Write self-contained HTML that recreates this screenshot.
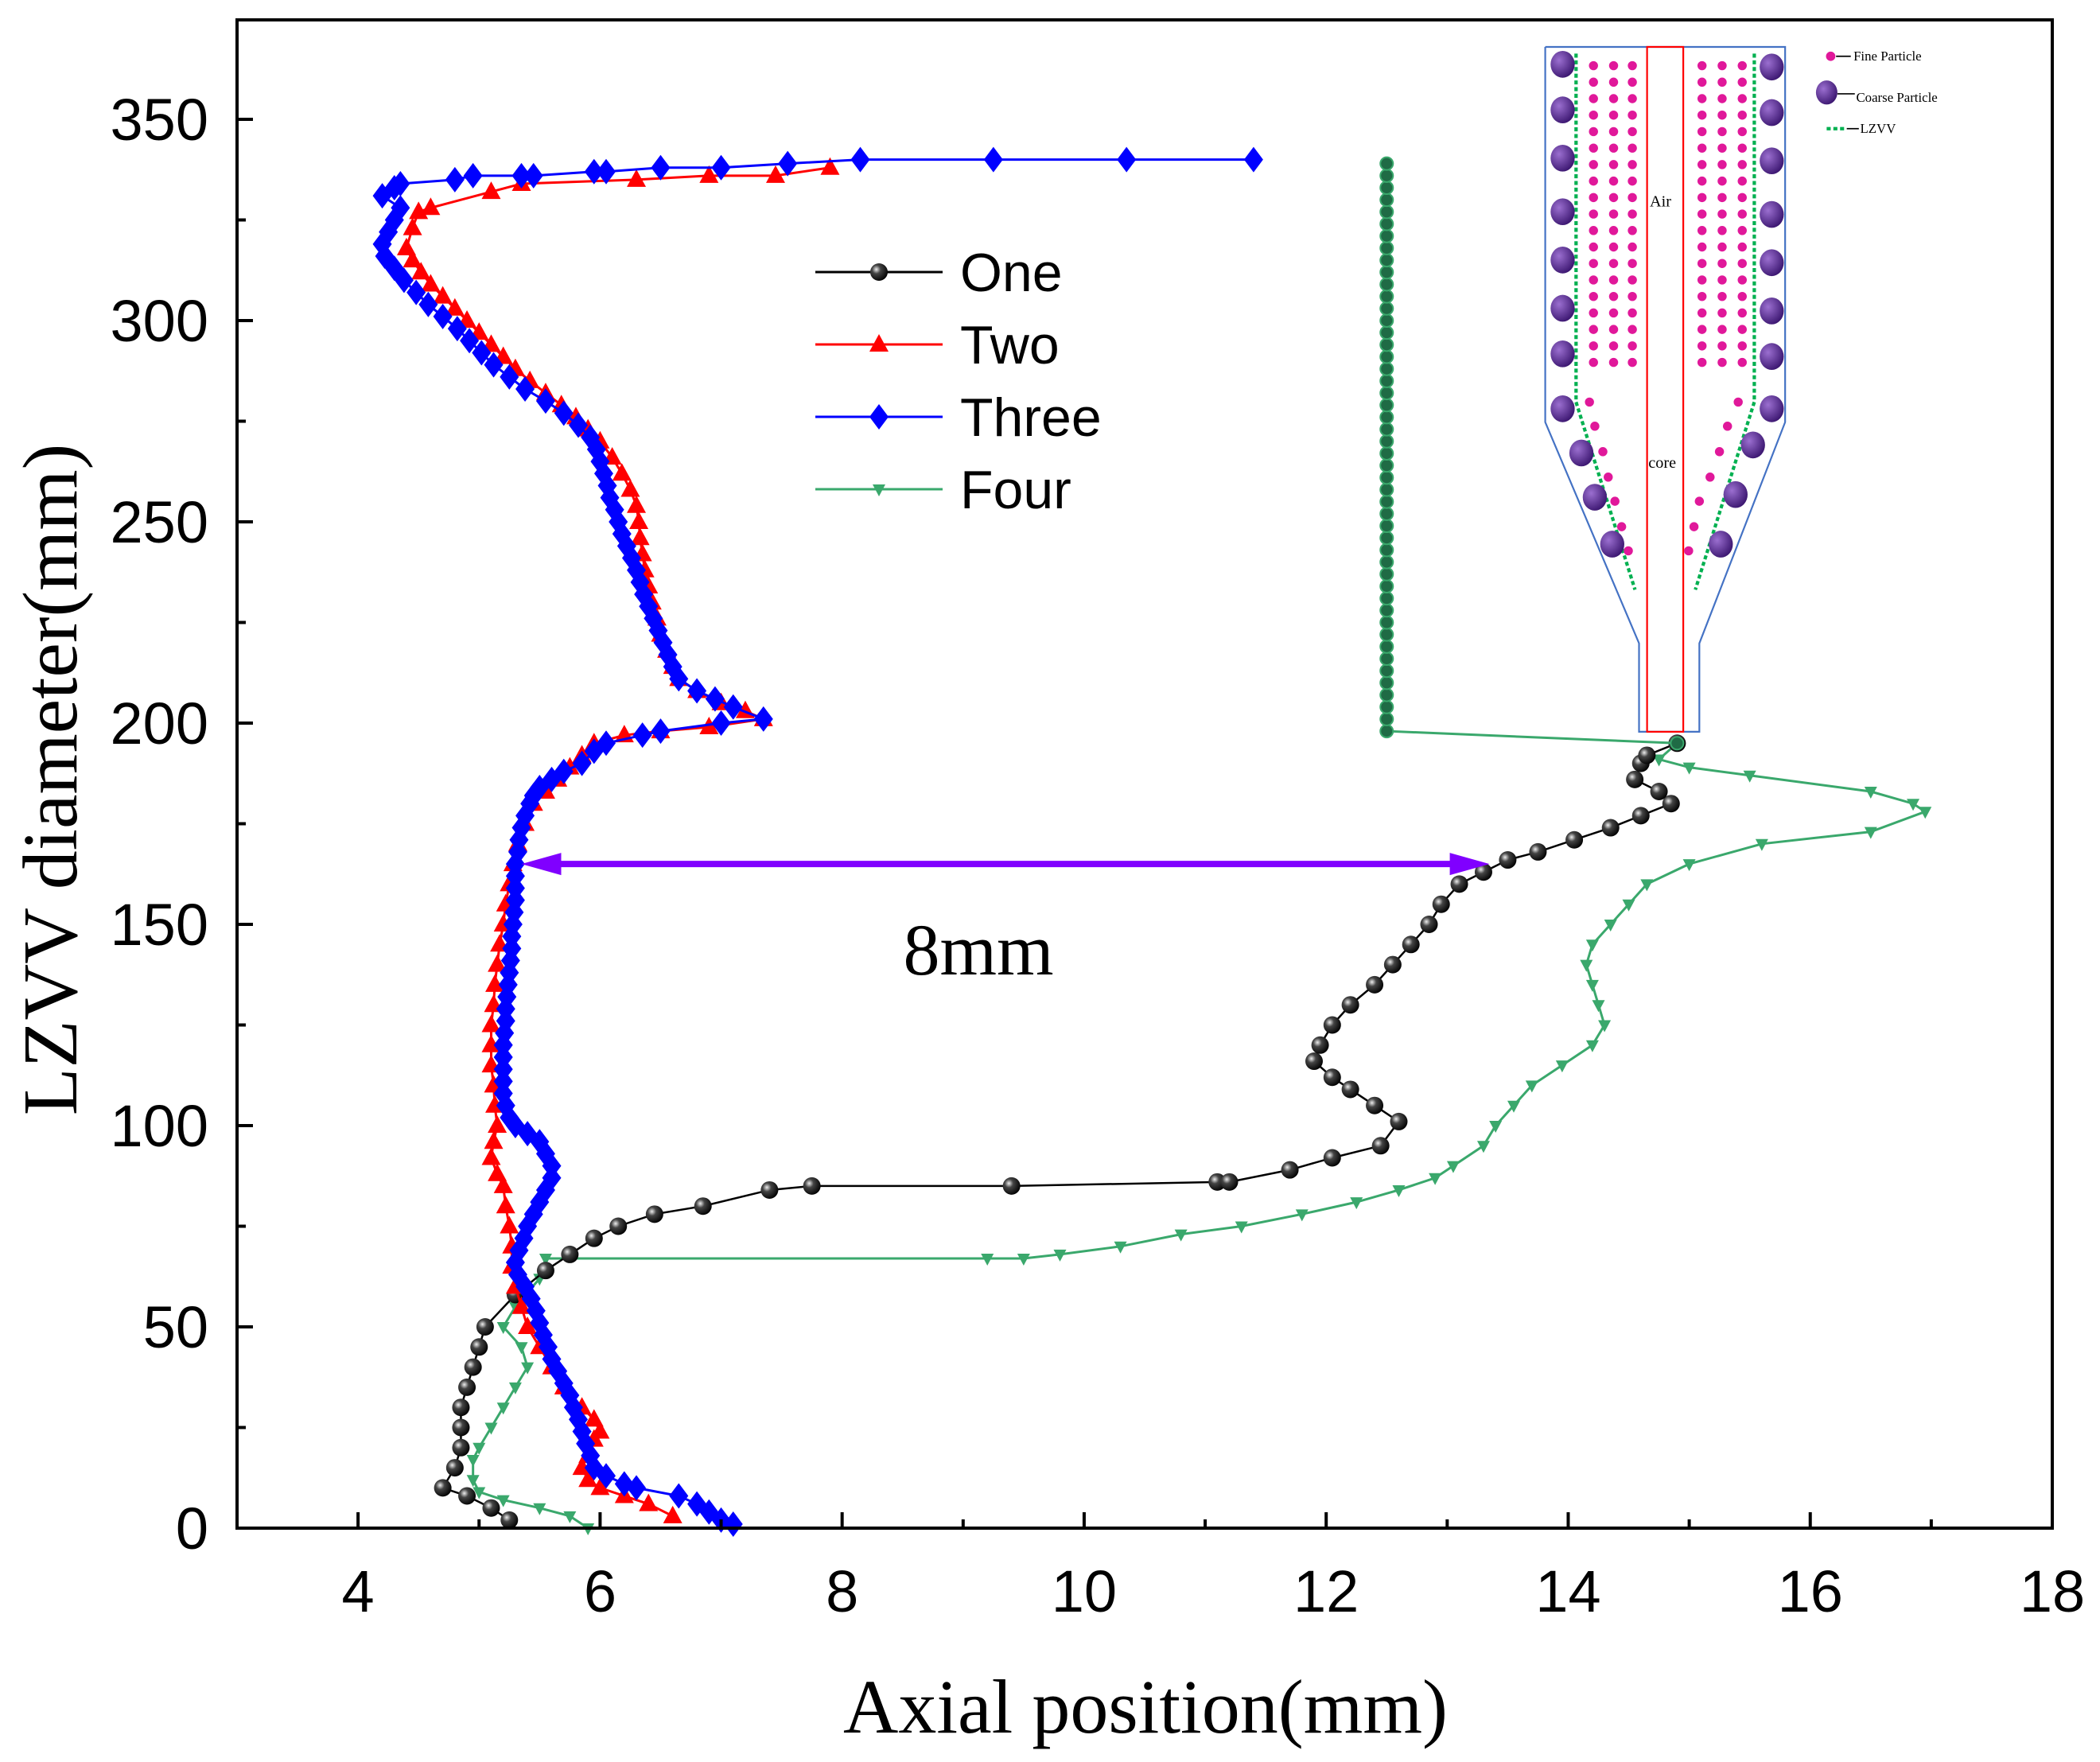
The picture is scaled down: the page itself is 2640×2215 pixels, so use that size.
<!DOCTYPE html>
<html><head><meta charset="utf-8"><style>
html,body{margin:0;padding:0;background:#fff;}
svg{display:block;}
</style></head><body>
<svg id="chart" width="2640" height="2215" viewBox="0 0 2640 2215" xmlns="http://www.w3.org/2000/svg">
<rect width="2640" height="2215" fill="#fff"/>
<g id="inset" transform="scale(1.6848)"></g>
<g id="plot"></g>
</svg>
<script>
const xTicks=[4,6,8,10,12,14,16,18];
const yTicks=[0,50,100,150,200,250,300,350];
const oneX=[5.25,5.1,4.9,4.7,4.8,4.85,4.85,4.85,4.9,4.95,5.0,5.05,5.3,5.55,5.75,5.95,6.15,6.45,6.85,7.4,7.75,9.4,11.1,11.2,11.7,12.05,12.45,12.6,12.4,12.2,12.05,11.9,11.95,12.05,12.2,12.4,12.55,12.7,12.85,12.95,13.1,13.3,13.5,13.75,14.05,14.35,14.6,14.85,14.75,14.55,14.6,14.65,14.9];
const oneY=[2,5,8,10,15,20,25,30,35,40,45,50,58,64,68,72,75,78,80,84,85,85,86,86,89,92,95,101,105,109,112,116,120,125,130,135,140,145,150,155,160,163,166,168,171,174,177,180,183,186,190,192,195];
const tailX=[14.9,12.5,12.5];
const tailY=[195,198,340];
const twoX=[7.9,7.45,6.9,6.3,5.35,5.1,4.6,4.5,4.45,4.4,4.45,4.52,4.6,4.7,4.8,4.9,5.0,5.1,5.2,5.3,5.42,5.55,5.68,5.8,5.9,6.0,6.1,6.18,6.25,6.3,6.32,6.33,6.35,6.37,6.4,6.43,6.47,6.5,6.55,6.6,6.65,6.8,7.0,7.2,7.35,6.9,6.5,6.2,5.95,5.85,5.75,5.65,5.55,5.45,5.38,5.32,5.28,5.25,5.22,5.2,5.17,5.15,5.13,5.12,5.1,5.1,5.1,5.12,5.13,5.15,5.12,5.1,5.15,5.2,5.22,5.25,5.27,5.27,5.3,5.35,5.4,5.5,5.6,5.7,5.85,5.95,6.0,5.95,5.9,5.85,5.9,6.0,6.2,6.4,6.6];
const twoY=[338,336,336,335,334,332,328,327,323,318,315,312,309,306,303,300,297,294,291,288,285,282,279,276,273,270,266,262,258,254,250,246,242,238,234,230,226,222,218,214,211,208,205,203,201,199,198,197,195,192,189,186,183,180,175,170,165,160,155,150,145,140,135,130,125,120,115,110,105,100,96,92,88,85,80,75,70,65,60,55,50,45,40,35,30,27,24,22,18,15,12,10,8,6,3];
const threeX=[11.4,10.35,9.25,8.15,7.55,7.0,6.5,6.05,5.95,5.45,5.35,4.95,4.8,4.35,4.3,4.2,4.35,4.3,4.25,4.2,4.22,4.3,4.38,4.48,4.58,4.7,4.82,4.92,5.02,5.12,5.25,5.38,5.55,5.7,5.82,5.92,5.97,6.0,6.03,6.06,6.08,6.12,6.15,6.18,6.22,6.26,6.3,6.33,6.36,6.4,6.44,6.48,6.52,6.56,6.6,6.65,6.8,6.95,7.1,7.35,7.0,6.5,6.35,6.05,5.95,5.85,5.7,5.6,5.5,5.45,5.42,5.38,5.35,5.33,5.32,5.3,5.3,5.3,5.3,5.29,5.28,5.27,5.27,5.26,5.25,5.24,5.23,5.22,5.22,5.21,5.2,5.2,5.2,5.2,5.2,5.22,5.25,5.3,5.4,5.5,5.55,5.6,5.6,5.55,5.5,5.45,5.4,5.37,5.33,5.3,5.32,5.38,5.43,5.47,5.5,5.53,5.57,5.6,5.65,5.7,5.75,5.78,5.82,5.85,5.88,5.92,5.95,6.05,6.2,6.3,6.65,6.8,6.9,7.0,7.1];
const threeY=[340,340,340,340,339,338,338,337,337,336,336,336,335,334,333,331,328,325,322,319,316,313,310,307,304,301,298,295,292,289,286,283,280,277,274,271,268,265,262,259,256,253,250,247,244,241,238,235,232,229,226,223,220,217,214,211,208,206,204,201,200,198,197,195,193,190,188,186,184,182,180,177,174,171,168,165,162,159,156,153,150,147,144,141,138,135,132,129,126,123,120,117,114,111,108,105,102,100,98,96,93,90,87,84,81,78,75,72,69,66,63,60,57,54,51,48,45,42,39,36,33,30,27,24,21,18,15,13,11,10,8,6,4,2,1];
const fourX=[5.9,5.75,5.5,5.2,5.0,4.95,4.95,5.0,5.1,5.2,5.3,5.4,5.35,5.2,5.3,5.5,5.55,9.2,9.5,9.8,10.3,10.8,11.3,11.8,12.25,12.6,12.9,13.05,13.3,13.4,13.55,13.7,13.95,14.2,14.3,14.25,14.2,14.15,14.2,14.35,14.5,14.65,15.0,15.6,16.5,16.95,16.85,16.5,15.5,15.0,14.75,14.9];
const fourY=[0,3,5,7,9,12,17,20,25,30,35,40,45,50,55,62,67,67,67,68,70,73,75,78,81,84,87,90,95,100,105,110,115,120,125,130,135,140,145,150,155,160,165,170,173,178,180,183,187,189,191,195];

const NS="http://www.w3.org/2000/svg";
const X0=298,X1=2580,Y0=1921,Y1=25,xmin=3,xmax=18,ymin=0,ymax=374.7;
const sx=v=>X0+(v-xmin)/(xmax-xmin)*(X1-X0);
const sy=v=>Y0-(v-ymin)/(ymax-ymin)*(Y0-Y1);
const plot=document.getElementById('plot');
function el(tag,attrs,parent,text){const e=document.createElementNS(NS,tag);for(const k in attrs)e.setAttribute(k,attrs[k]);if(text!==undefined)e.textContent=text;(parent||plot).appendChild(e);return e;}

const defs=el('defs',{});
const rg=el('radialGradient',{id:'ball',cx:'0.35',cy:'0.35',r:'0.7'},defs);
el('stop',{offset:'0','stop-color':'#eee'},rg);el('stop',{offset:'0.35','stop-color':'#444'},rg);el('stop',{offset:'1','stop-color':'#000'},rg);
const pg=el('radialGradient',{id:'purp',cx:'0.35',cy:'0.35',r:'0.7'},defs);
el('stop',{offset:'0','stop-color':'#9b6fd0'},pg);el('stop',{offset:'1','stop-color':'#3b1670'},pg);

function marker(kind,x,y,color,g){
  let m;
  if(kind==='circle'){m=el('circle',{cx:x,cy:y,r:11,fill:'url(#ball)'},g);}
  else if(kind==='gcircle'){m=el('circle',{cx:x,cy:y,r:8,fill:'#1f6b45',stroke:'#3aa86c','stroke-width':2},g);}
  else if(kind==='up'){m=el('polygon',{points:`${x},${y-13} ${x-12},${y+9} ${x+12},${y+9}`,fill:color},g);}
  else if(kind==='down'){m=el('polygon',{points:`${x},${y+9} ${x-8},${y-6} ${x+8},${y-6}`,fill:color},g);}
  else if(kind==='diamond'){m=el('polygon',{points:`${x},${y-16} ${x+12},${y} ${x},${y+16} ${x-12},${y}`,fill:color},g);}
  return m;
}
function series(name,xs,ys,color,kind,lw){
  const g=el('g',{});
  
  
  const pts=xs.map((v,i)=>sx(v)+','+sy(ys[i])).join(' ');
  const pl=el('polyline',{points:pts,fill:'none',stroke:color,'stroke-width':lw},g);
  
  
  xs.forEach((v,i)=>{const m=marker(kind,sx(v),sy(ys[i]),color,g);
    
    });
}
series('series-four',fourX,fourY,'#3aa86c','down',3);
series('series-one',oneX,oneY,'#000','circle',2.5);
series('series-two',twoX,twoY,'#ff0000','up',3);
series('series-three',threeX,threeY,'#0000ff','diamond',3);
(function(){
  const g=el('g',{});
  
  
  el('polyline',{points:tailX.map((v,i)=>sx(v)+','+sy(tailY[i])).join(' '),fill:'none',stroke:'#3aa86c','stroke-width':3},g);
  for(let v=tailY[1];v<=tailY[2];v+=3){const m=marker('gcircle',sx(tailX[1]),sy(v),'',g);
    
    }
  const e=marker('gcircle',sx(tailX[0]),sy(tailY[0]),'',g);
  
  
})();

const arr=el('g',{});


const ax1=sx(5.35),ax2=sx(13.35),ay=sy(165);
el('line',{x1:ax1+40,y1:ay,x2:ax2-40,y2:ay,stroke:'#8000ff','stroke-width':8},arr);
el('polygon',{points:`${ax1},${ay} ${ax1+50},${ay-14} ${ax1+50},${ay+14}`,fill:'#8000ff'},arr);
el('polygon',{points:`${ax2},${ay} ${ax2-50},${ay-14} ${ax2-50},${ay+14}`,fill:'#8000ff'},arr);
const t8=el('text',{x:1230,y:1225,'font-family':'Liberation Serif, serif','font-size':92,'text-anchor':'middle'},plot,'8mm');



const fr=el('rect',{x:X0,y:Y1,width:X1-X0,height:Y0-Y1,fill:'none',stroke:'#000','stroke-width':4});


for(let v=4;v<=18;v+=1){const x=sx(v),L=(v%2===0)?20:11;el('line',{x1:x,y1:Y0,x2:x,y2:Y0-L,stroke:'#000','stroke-width':4});}
for(let v=0;v<=350;v+=25){const y=sy(v),L=(v%50===0)?20:11;el('line',{x1:X0,y1:y,x2:X0+L,y2:y,stroke:'#000','stroke-width':4});}
xTicks.forEach(v=>{const t=el('text',{x:sx(v),y:2026,'font-family':'Liberation Sans, sans-serif','font-size':74,'text-anchor':'middle'},plot,String(v));
  
  });
yTicks.forEach(v=>{const t=el('text',{x:262,y:sy(v)+26,'font-family':'Liberation Sans, sans-serif','font-size':74,'text-anchor':'end'},plot,String(v));
  
  });
const xt=el('text',{x:1440,y:2178,'font-family':'Liberation Serif, serif','font-size':96,'text-anchor':'middle'},plot,'Axial position(mm)');


const yt=el('text',{x:0,y:0,'font-family':'Liberation Serif, serif','font-size':98,'text-anchor':'middle',transform:'translate(96,980) rotate(-90)'},plot,'LZVV diameter(mm)');



const legNames=['One','Two','Three','Four'],legCol=['#000','#ff0000','#0000ff','#3aa86c'],legKind=['circle','up','diamond','down'];
legNames.forEach((n,i)=>{const y=342+i*91;const g=el('g',{});
  
  
  el('line',{x1:1025,y1:y,x2:1185,y2:y,stroke:legCol[i],'stroke-width':3},g);
  marker(legKind[i],1105,y,legCol[i],g);
  el('text',{x:1207,y:y+24,'font-family':'Liberation Sans, sans-serif','font-size':68},g,n);});

const ins=document.getElementById('inset');
el('polyline',{points:'1153,35 1332,35 1332,315 1268,480 1268,546 1223,546 1223,480 1153,315 1153,35',fill:'none',stroke:'#4472c4','stroke-width':1.3},ins);
el('rect',{x:1229,y:35,width:27,height:511,fill:'none',stroke:'#ff0000','stroke-width':1.3},ins);
el('polyline',{points:'1176,40 1176,300 1220,440',fill:'none',stroke:'#00b050','stroke-width':2.5,'stroke-dasharray':'3,2'},ins);
el('polyline',{points:'1309,40 1309,300 1265,440',fill:'none',stroke:'#00b050','stroke-width':2.5,'stroke-dasharray':'3,2'},ins);
[1189,1204,1218,1270,1285,1300].forEach(cx=>{for(let r=0;r<19;r++)el('circle',{cx:cx,cy:49+r*12.3,r:3.4,fill:'#e0189a'},ins);});
[[1186,300],[1190,318],[1196,337],[1200,356],[1205,374],[1210,393],[1215,411],[1297,300],[1289,318],[1283,337],[1276,356],[1268,374],[1264,393],[1260,411]].forEach(p=>el('circle',{cx:p[0],cy:p[1],r:3.4,fill:'#e0189a'},ins));
[[1166,48],[1166,82],[1166,118],[1166,158],[1166,194],[1166,230],[1166,264],[1166,305],[1180,338],[1190,371],[1203,406],[1322,50],[1322,84],[1322,120],[1322,160],[1322,196],[1322,232],[1322,266],[1322,305],[1308,332],[1295,369],[1284,406]].forEach(p=>el('ellipse',{cx:p[0],cy:p[1],rx:9,ry:10,fill:'url(#purp)'},ins));
el('circle',{cx:1366,cy:42,r:3.5,fill:'#e0189a'},ins);el('line',{x1:1370,y1:42,x2:1381,y2:42,stroke:'#000','stroke-width':1},ins);
el('text',{x:1383,y:45,'font-family':'Liberation Serif, serif','font-size':10},ins,'Fine Particle');
el('ellipse',{cx:1363,cy:69,rx:8,ry:9,fill:'url(#purp)'},ins);el('line',{x1:1371,y1:70,x2:1384,y2:70,stroke:'#000','stroke-width':1},ins);
el('text',{x:1385,y:76,'font-family':'Liberation Serif, serif','font-size':10},ins,'Coarse Particle');
el('line',{x1:1363,y1:96,x2:1378,y2:96,stroke:'#00b050','stroke-width':2.5,'stroke-dasharray':'3,2'},ins);el('line',{x1:1378,y1:96,x2:1387,y2:96,stroke:'#000','stroke-width':1},ins);
el('text',{x:1388,y:99,'font-family':'Liberation Serif, serif','font-size':10},ins,'LZVV');
el('text',{x:1231,y:154,'font-family':'Liberation Serif, serif','font-size':12},ins,'Air');
el('text',{x:1230,y:349,'font-family':'Liberation Serif, serif','font-size':12},ins,'core');
</script>
</body></html>
